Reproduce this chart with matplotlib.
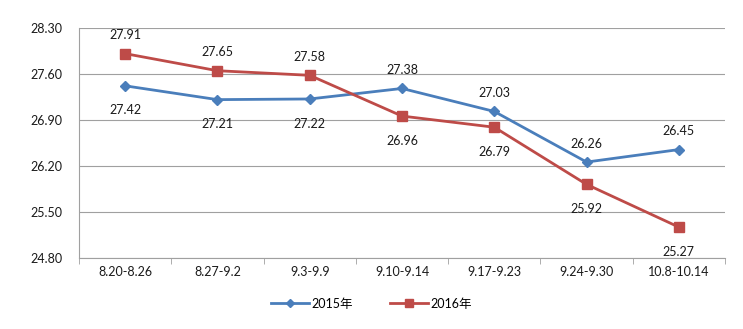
import matplotlib
matplotlib.use("Agg")
import matplotlib.pyplot as plt
import numpy as np

plt.rcParams['font.family'] = ['Lato', 'Noto Sans CJK SC', 'DejaVu Sans']

# data
weeks = ["8.20-8.26", "8.27-9.2", "9.3-9.9", "9.10-9.14", "9.17-9.23", "9.24-9.30", "10.8-10.14"]
y2015 = [27.42, 27.21, 27.22, 27.38, 27.03, 26.26, 26.45]
y2016 = [27.91, 27.65, 27.58, 26.96, 26.79, 25.92, 25.27]
pos2015 = ["below", "below", "below", "above", "above", "above", "above"]
pos2016 = ["above", "above", "above", "below", "below", "below", "below"]
yticks = [24.80, 25.50, 26.20, 26.90, 27.60, 28.30]

blue = "#4A7EBB"
red = "#BE4B48"

fig = plt.figure(figsize=(7.43, 3.29), dpi=100)
ax = fig.add_axes([0.1063, 0.2158, 0.8695, 0.6991])

x = np.arange(len(weeks))
ax.plot(x, y2015, color=blue, lw=2, marker="D", ms=5.5, label="2015年")
ax.plot(x, y2016, color=red, lw=2, marker="s", ms=7, label="2016年")

def add_labels(vals, pos):
    for i, (v, p) in enumerate(zip(vals, pos)):
        off = 9 if p == "above" else -22
        ax.annotate(f"{v:.2f}", (i, v), xytext=(0, off), textcoords="offset points",
                    ha="center", va="bottom", fontsize=9, color="#1a1a1a")

add_labels(y2015, pos2015)
add_labels(y2016, pos2016)

ax.set_xlim(-0.5, len(weeks) - 0.5)
ax.set_ylim(24.80, 28.30)
ax.set_yticks(yticks)
ax.set_yticklabels([f"{t:.2f}" for t in yticks], fontsize=9, color="#1a1a1a")
ax.yaxis.grid(True, color="#a0a0a0", lw=0.8)
ax.set_axisbelow(True)
ax.tick_params(axis="y", length=0, pad=12)

ax.set_xticks(x)
ax.set_xticklabels(weeks, fontsize=9, color="#1a1a1a")
ax.tick_params(axis="x", which="major", length=0, pad=6)
ax.set_xticks(np.arange(-0.5, len(weeks) + 0.5, 1), minor=True)
ax.tick_params(axis="x", which="minor", length=4, color="#a0a0a0", direction="out")

for s in ["top", "right"]:
    ax.spines[s].set_visible(False)
ax.spines["left"].set_color("#a0a0a0")
ax.spines["bottom"].set_color("#a0a0a0")

fig.legend(loc="lower center", bbox_to_anchor=(0.5, 0.025), ncol=2, frameon=False,
           fontsize=9, handlelength=3, columnspacing=3, handletextpad=0.2, markerscale=0.8)

fig.savefig("out.png", dpi=100)
